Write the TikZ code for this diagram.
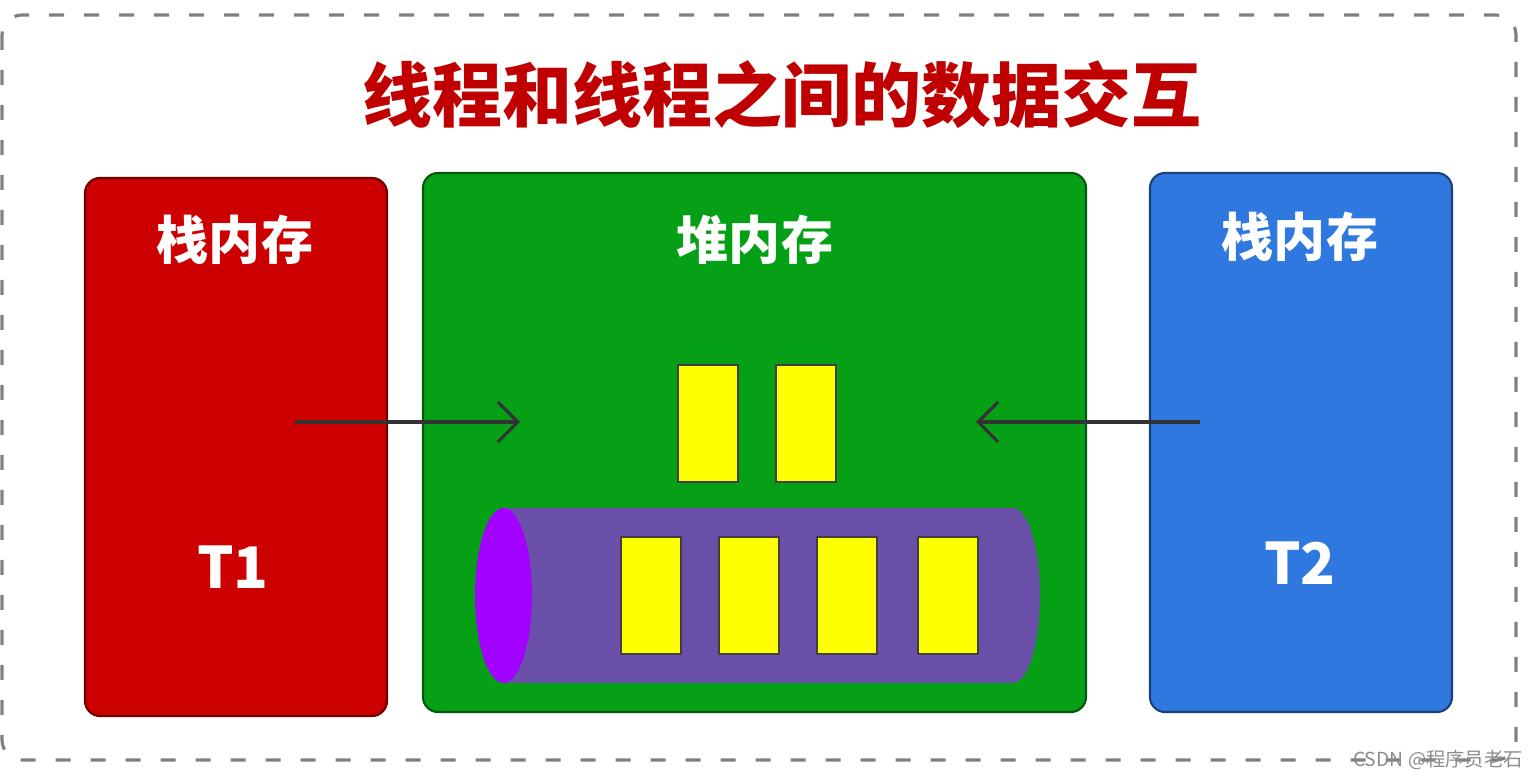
\documentclass[tikz,border=0pt]{standalone}
\usepackage{fontspec}
\setmainfont{Noto Sans CJK SC}
\usepackage{tikz}
\usetikzlibrary{arrows.meta}
\usetikzlibrary{positioning}

\definecolor{titlered}{HTML}{C00000}
\definecolor{stackred}{HTML}{CC0000}
\definecolor{heapgreen}{HTML}{05A016}
\definecolor{stackblue}{HTML}{2E78E0}
\definecolor{pipebody}{HTML}{6A50A8}
\definecolor{pipeend}{HTML}{A200FF}
\definecolor{objyellow}{HTML}{FFFF00}

\begin{document}
\begin{tikzpicture}[mem/.style={fill=#1, draw=#1!55!black, line width=0.6pt,
rounded corners=0.15cm, inner sep=0pt},
lbl/.style={text=white, font=\bfseries\fontsize{14.8}{16}\selectfont},
obj/.style={draw=black!75, line width=0.6pt, fill=objyellow,
minimum width=0.6cm, minimum height=1.17cm, inner sep=0pt},
link/.style={draw=black!80, line width=0.9pt, -{Straight Barb[length=2mm, width=4mm]}}]
\useasboundingbox (0,0) rectangle (15.4,-7.8);
% frame and title
\draw[black!50, line width=0.9pt, dash pattern=on 0.15cm off 0.2cm,
rounded corners=0.2cm] (0.02,-0.15) rectangle (15.16,-7.6);
\node[text=titlered, font=\bfseries\fontsize{19.9}{22}\selectfont] (title) at (7.82,-0.95) {线程和线程之间的数据交互};
% the three memories
\node[mem=stackred, minimum width=3.02cm, minimum height=5.38cm] (t1) at (2.36,-4.47) {};
\node[mem=heapgreen, minimum width=6.63cm, minimum height=5.39cm] (heap) at (7.545,-4.425) {};
\node[mem=stackblue, minimum width=3.02cm, minimum height=5.39cm] (t2) at (13.01,-4.425) {};
\node[lbl] (t1name) at (2.35,-2.40) {栈内存};
\node[lbl] (heapname) at (7.55,-2.40) {堆内存};
\node[lbl] (t2name) at (13.00,-2.37) {栈内存};
\node[lbl, font=\bfseries\fontsize{16.3}{18}\selectfont] (t1id) at (2.33,-5.67) {T1};
\node[lbl, font=\bfseries\fontsize{16.3}{18}\selectfont] (t2id) at (13.00,-5.63) {T2};
% pipe
\fill[pipebody] (5.03,-5.08) -- (10.13,-5.08) arc[start angle=90, end angle=-90,
x radius=0.27, y radius=0.875] -- (5.03,-6.83) -- cycle;
\fill[pipeend] (5.035,-5.955) ellipse[x radius=0.285, y radius=0.875];
\foreach \x [count=\i] in {7.08, 8.06}{
\node[obj] (top\i) at (\x,-4.235) {};}
\foreach \x [count=\i] in {6.51, 7.49, 8.47, 9.48}{
\node[obj] (pipe\i) at (\x,-5.955) {};}
% access from both threads
\coordinate (s1) at (2.95,-4.22);
\coordinate (e1) at (5.20,-4.22);
\coordinate (s2) at (12.00,-4.22);
\coordinate (e2) at (9.76,-4.22);
\foreach \i/\j in {s1/e1, s2/e2}{
\draw[link] (\i) -- (\j);}
\node[text=black!45, font=\fontsize{5.5}{6}\selectfont] (mark) at (14.38,-7.6) {CSDN @程序员老石};
\end{tikzpicture}
\end{document}
